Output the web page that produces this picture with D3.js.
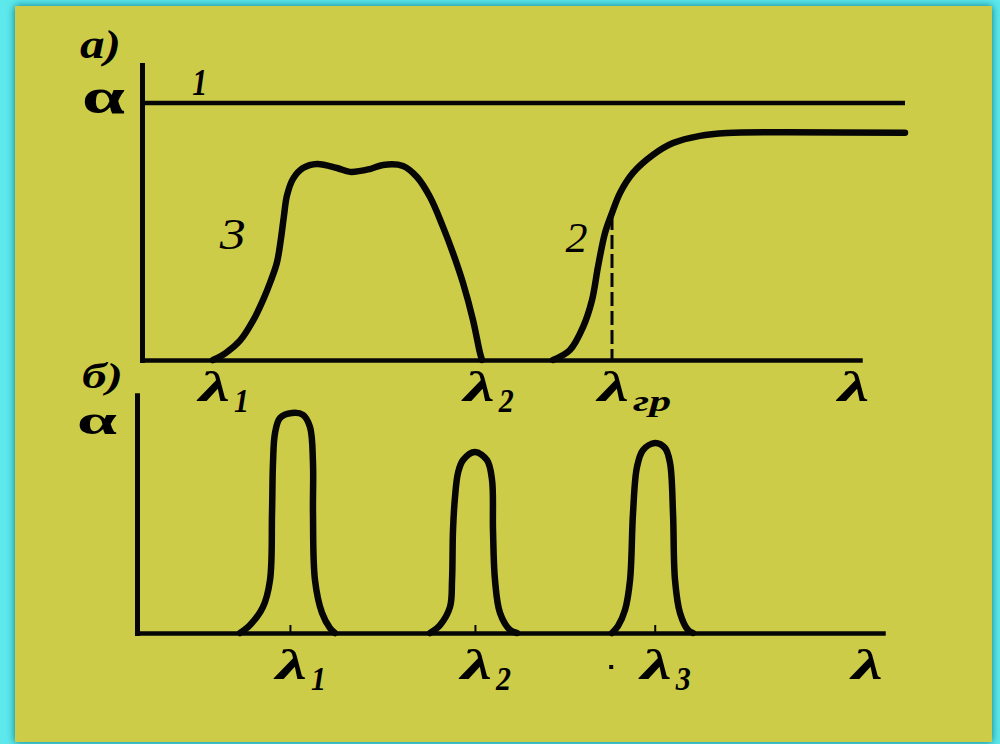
<!DOCTYPE html>
<html>
<head>
<meta charset="utf-8">
<script src="https://cdn.jsdelivr.net/npm/d3@7"></script>
<style>
  html, body { margin: 0; padding: 0; background: #5de9ec; }
  svg { display: block; }
  text { font-family: "Liberation Serif", "DejaVu Serif", serif; fill: #000; }
</style>
</head>
<body>
<svg id="chart" width="1000" height="744"></svg>
<script>
// ---- data: panel а) (absorption vs wavelength, three filter types) ----
// each point is [wavelength, absorption], wavelength in arbitrary units 0..100
const curve1 = [[0, 1], [100, 1]];
const curve2 = [
  [53.87, 0], [56.09, 0.039], [57.80, 0.128], [58.98, 0.233], [59.76, 0.362],
  [60.68, 0.494], [61.60, 0.572], [62.65, 0.650], [64.35, 0.728], [66.97, 0.798],
  [69.59, 0.844], [73.13, 0.872], [76.67, 0.883], [84.53, 0.886], [100, 0.884]
];
const curve3 = [
  [9.3, 0], [11.0, 0.028], [12.84, 0.075], [14.5, 0.15], [15.86, 0.233],
  [16.9, 0.31], [17.69, 0.380], [18.2, 0.47], [18.6, 0.56], [19.0, 0.640],
  [19.79, 0.705], [21.10, 0.747], [22.94, 0.763], [25.56, 0.747], [27.26, 0.732],
  [29.88, 0.743], [31.59, 0.759], [34.21, 0.755], [36.04, 0.712], [37.75, 0.634],
  [39.45, 0.518], [40.76, 0.416], [42.07, 0.300], [43.38, 0.156], [44.30, 0.027],
  [44.56, 0]
];
const lambdaCutoff = 61.6;           // boundary wavelength λгр
const curve2AtCutoff = 0.56;         // absorption of curve 2 at λгр
const axisEndA = 94.1;
const axisTopA = 1.148;
const curveNames = ["1", "2", "3"];
const ticksA = [
  { sub: "1", at: 9.3 },
  { sub: "2", at: 44.0 },
  { sub: "гр", at: lambdaCutoff },
  { sub: "", at: 93.1 }
];

// ---- data: panel б) (three narrow absorption bands) ----
const peak1 = [
  [13.81, 0], [15.15, 0.034], [16.89, 0.112], [17.83, 0.227], [18.10, 0.515],
  [18.23, 0.730], [18.50, 0.858], [19.17, 0.923], [20.78, 0.944], [22.25, 0.936],
  [23.19, 0.884], [23.59, 0.730], [23.59, 0.515], [23.86, 0.227], [24.80, 0.086],
  [25.87, 0.021], [26.54, 0]
];
const peak2 = [
  [39.28, 0], [40.62, 0.034], [41.96, 0.112], [42.23, 0.227], [42.36, 0.442],
  [42.63, 0.584], [43.03, 0.687], [43.70, 0.742], [45.31, 0.777], [46.92, 0.742],
  [47.59, 0.657], [47.72, 0.442], [47.99, 0.227], [48.66, 0.086], [50.0, 0.013],
  [50.94, 0]
];
const peak3 = [
  [63.67, 0], [64.48, 0.03], [65.42, 0.099], [66.09, 0.227], [66.49, 0.515],
  [67.02, 0.712], [67.83, 0.785], [69.44, 0.815], [70.78, 0.794], [71.45, 0.730],
  [71.85, 0.515], [72.12, 0.227], [72.79, 0.086], [73.86, 0.013], [74.53, 0]
];
const peakCenters = [20.5, 45.3, 69.4];
const ticksB = [
  { sub: "1", at: 20.5 },
  { sub: "2", at: 45.3 },
  { sub: "3", at: 69.4 },
  { sub: "", at: 97.7 }
];
const axisTopB = 1.02;

// ---- drawing ----
const svg = d3.select("#chart");
const W = 1000, H = 744;

// sheet with a soft dark rim on the cyan mat
const defs = svg.append("defs");
const f = defs.append("filter").attr("id", "rim")
  .attr("x", -0.05).attr("y", -0.05).attr("width", 1.1).attr("height", 1.1);
f.append("feDropShadow").attr("dx", 0).attr("dy", 0)
  .attr("stdDeviation", 4).attr("flood-color", "#0c6f78").attr("flood-opacity", 0.95);

svg.append("rect").attr("width", W).attr("height", H).attr("fill", "#5de9ec");
svg.append("rect")
  .attr("x", 15).attr("y", 6).attr("width", 977).attr("height", 736)
  .attr("fill", "#cdcc49").attr("filter", "url(#rim)");

const xA = d3.scaleLinear().domain([0, 100]).range([142, 905]);
const yA = d3.scaleLinear().domain([0, 1]).range([360, 103]);
const xB = d3.scaleLinear().domain([0, 100]).range([137, 883]);
const yB = d3.scaleLinear().domain([0, 1]).range([633, 400]);

const ink = "#060606";

function styleAxis(g, w) {
  g.select(".domain").attr("stroke", ink).attr("stroke-width", w)
    .attr("stroke-linecap", "square");
  g.selectAll(".tick line").attr("stroke", ink).attr("stroke-width", 2);
  g.selectAll(".tick text").remove();
}

// panel а) axes
const xAxisA = d3.axisBottom(xA.copy().domain([0, axisEndA]).range([xA(0), xA(axisEndA)]))
  .tickValues([]).tickSizeOuter(0);
svg.append("g").attr("transform", `translate(0,${yA(0)})`).call(xAxisA).call(g => styleAxis(g, 4.5));
const yAxisA = d3.axisLeft(yA.copy().domain([0, axisTopA]).range([yA(0), yA(axisTopA)]))
  .tickValues([]).tickSizeOuter(0);
svg.append("g").attr("transform", `translate(${xA(0)},0)`).call(yAxisA).call(g => styleAxis(g, 5));

const lineA = d3.line().x(d => xA(d[0])).y(d => yA(d[1]))
  .curve(d3.curveCatmullRom.alpha(0.5));

svg.append("path").datum(curve1).attr("d", lineA)
  .attr("fill", "none").attr("stroke", ink).attr("stroke-width", 4.5);
[curve2, curve3].forEach(c => {
  svg.append("path").datum(c).attr("d", lineA)
    .attr("fill", "none").attr("stroke", ink).attr("stroke-width", 6.5)
    .attr("stroke-linecap", "round").attr("stroke-linejoin", "round");
});

// dashed drop line at the boundary wavelength
svg.append("line")
  .attr("x1", xA(lambdaCutoff)).attr("x2", xA(lambdaCutoff))
  .attr("y1", yA(curve2AtCutoff)).attr("y2", yA(0))
  .attr("stroke", ink).attr("stroke-width", 3).attr("stroke-dasharray", "14,5");

// panel б) axes, with short marks at the band centres
const xAxisB = d3.axisBottom(xB).tickValues(peakCenters).tickSize(-8).tickSizeOuter(0);
svg.append("g").attr("transform", `translate(0,${yB(0)})`).call(xAxisB).call(g => styleAxis(g, 4.5));
const yAxisB = d3.axisLeft(yB.copy().domain([0, axisTopB]).range([yB(0), yB(axisTopB)]))
  .tickValues([]).tickSizeOuter(0);
svg.append("g").attr("transform", `translate(${xB(0)},0)`).call(yAxisB).call(g => styleAxis(g, 5));

const lineB = d3.line().x(d => xB(d[0])).y(d => yB(d[1]))
  .curve(d3.curveCatmullRom.alpha(0.5));
[peak1, peak2, peak3].forEach(p => {
  svg.append("path").datum(p).attr("d", lineB)
    .attr("fill", "none").attr("stroke", ink).attr("stroke-width", 6.5)
    .attr("stroke-linecap", "round").attr("stroke-linejoin", "round");
});

// ---- text ----
function label(x, y, str, size, opts) {
  const o = opts || {};
  const t = svg.append("text").attr("x", x).attr("y", y)
    .attr("font-size", size)
    .attr("font-style", o.upright ? "normal" : "italic")
    .attr("font-weight", o.weight || "bold")
    .text(str);
  if (o.width) t.attr("textLength", o.width).attr("lengthAdjust", "spacingAndGlyphs");
  return t;
}

// panel letters and α axis names
label(80, 58, "а)", 40, { width: 41 });
label(82, 388, "б)", 36, { width: 41 });
label(82, 113, "α", 50, { upright: true, width: 43 });
label(77, 434, "α", 40, { upright: true, width: 40 });

// curve numbers
label(xA(6.6), yA(1.03), curveNames[0], 38, { width: 15 });
label(xA(55.5), yA(0.42), curveNames[1], 42, { weight: "normal", width: 22 });
label(xA(10.2), yA(0.43), curveNames[2], 44, { weight: "normal", width: 26 });

// wavelength labels under each axis
function lambdaLabels(ticks, scale, baseY) {
  ticks.forEach(t => {
    const x0 = scale(t.at) - 14;
    label(x0, baseY, "λ", 42, { width: 31 });
    if (t.sub) {
      const long = t.sub.length > 1;
      label(x0 + 35, baseY + (long ? 10 : 11), t.sub, long ? 30 : 33,
        { width: long ? 38 : 15 });
    }
  });
}
lambdaLabels(ticksA, xA, 401);
lambdaLabels(ticksB, xB, 679);

// small mark left of λ3
svg.append("rect").attr("x", xB(63.3)).attr("y", 665).attr("width", 4).attr("height", 4).attr("fill", ink);
</script>
</body>
</html>
